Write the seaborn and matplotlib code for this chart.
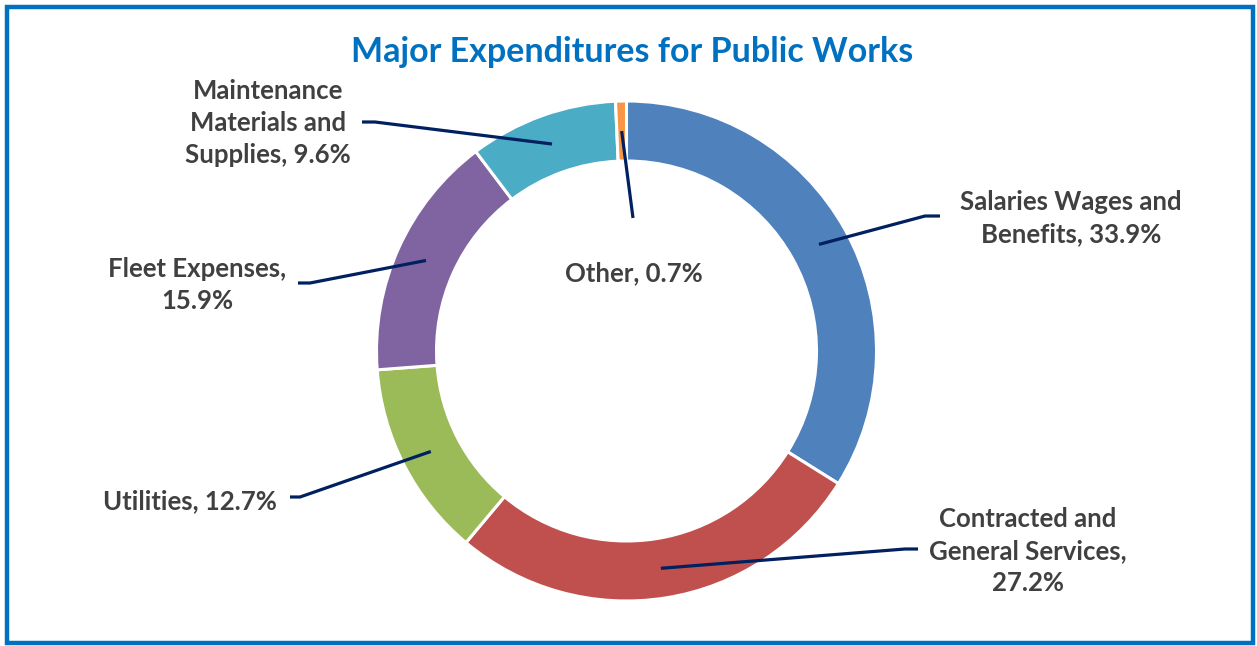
import numpy as np
import matplotlib
matplotlib.use("Agg")
import matplotlib.pyplot as plt
from matplotlib.patches import Rectangle
import seaborn as sns

# Budget categories and their share of the total (%)
categories = ["Salaries Wages and Benefits", "Contracted and General Services",
              "Utilities", "Fleet Expenses", "Maintenance Materials and Supplies", "Other"]
shares = [33.9, 27.2, 12.7, 15.9, 9.6, 0.7]
label_texts = ["Salaries Wages and\nBenefits, 33.9%",
               "Contracted and\nGeneral Services,\n27.2%",
               "Utilities, 12.7%",
               "Fleet Expenses,\n15.9%",
               "Maintenance\nMaterials and\nSupplies, 9.6%",
               "Other, 0.7%"]
colors = ["#4F81BD", "#C0504D", "#9BBB59", "#8064A2", "#4BACC6", "#F79646"]

sns.set_theme(style="white")
plt.rcParams["font.family"] = ["Lato", "DejaVu Sans"]

W, H = 1257, 646
fig = plt.figure(figsize=(W / 100, H / 100), dpi=100)
ax = fig.add_axes([0, 0, 1, 1])

cx, cy = 626.5, H - 351
r_out, width = 250, 60
wedges, _ = ax.pie(shares, colors=colors, startangle=90, counterclock=False,
                   radius=r_out, center=(cx, cy),
                   wedgeprops=dict(width=width, edgecolor="white", linewidth=2.2))
ax.set_xlim(0, W)
ax.set_ylim(0, H)
ax.set_aspect("equal")
ax.axis("off")

# label layout: (text x, text y, leader end x, leader end y, stub end x)
layout = [
    (1071, 218, 925, 216, 940),
    (1028, 551, 905, 549, 918),
    (190, 501, 300, 497, 290),
    (197, 285, 310, 283, 298),
    (268, 123, 375, 122, 362),
    (634, 273, 633, 218, None),
]
text_color = "#404040"
line_color = "#002060"
r_mid = r_out - width / 2
cum = np.cumsum([0] + shares[:-1])
for share, start, txt, (tx, ty, ex, ey, sx) in zip(shares, cum, label_texts, layout):
    ang = np.deg2rad((start + share / 2) / 100 * 360)
    px = cx + r_mid * np.sin(ang)
    py = cy + r_mid * np.cos(ang)
    xs, ys = [px, ex], [py, H - ey]
    if sx is not None:
        xs.append(sx)
        ys.append(H - ey)
    ax.plot(xs, ys, color=line_color, lw=2.3, solid_capstyle="butt", zorder=3)
    ax.text(tx, H - ty, txt, ha="center", va="center", fontsize=18.5,
            fontweight="bold", color=text_color, linespacing=1.42)

ax.text(632, H - 52, "Major Expenditures for Public Works", ha="center", va="center",
        fontsize=24.5, fontweight="bold", color="#0070C0")

fig.patches.append(Rectangle((7 / W, 3 / H), 1246 / W, 636 / H, transform=fig.transFigure,
                             fill=False, edgecolor="#0070C0", linewidth=3.2))

fig.savefig("out.png", dpi=100)
